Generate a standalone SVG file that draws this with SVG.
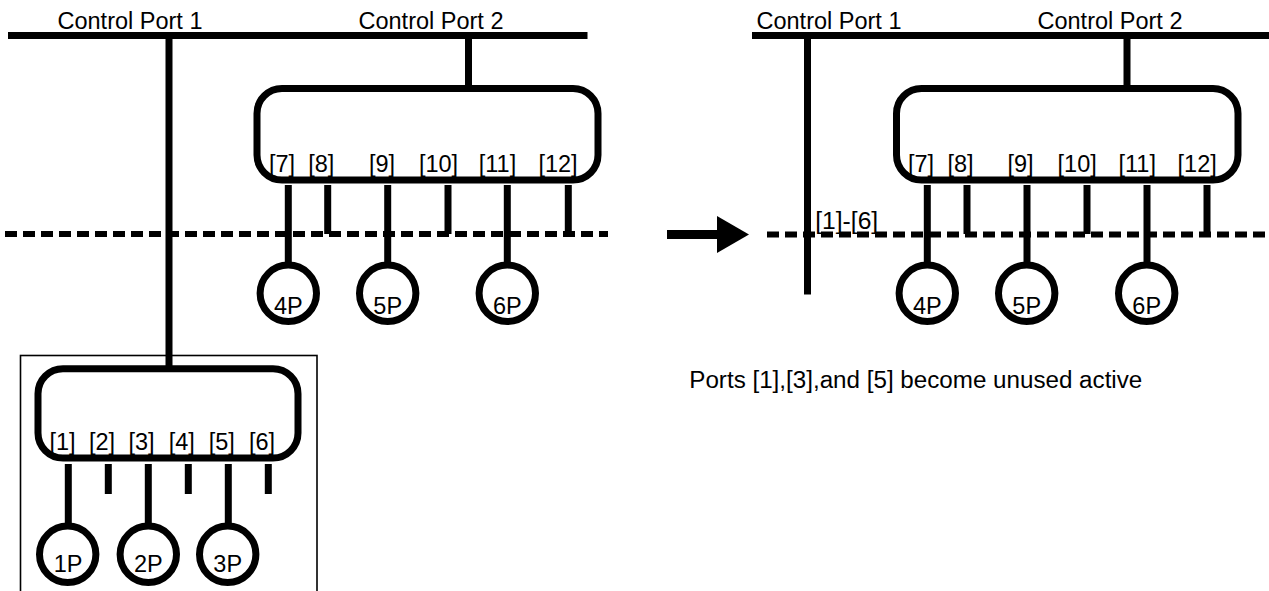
<svg xmlns="http://www.w3.org/2000/svg" width="1269" height="591" viewBox="0 0 1269 591">
  <style>
    .bus { stroke: #000; stroke-width: 7; fill: none; }
    .wire { stroke: #000; stroke-width: 7; fill: none; }
    .box { stroke: #000; stroke-width: 7; fill: none; }
    .enc { stroke: #000; stroke-width: 1.6; fill: none; }
    .dash { stroke: #000; stroke-width: 6; fill: none; stroke-dasharray: 12 6; }
    .port { stroke: #000; stroke-width: 7; fill: #fff; }
    text { font-family: "Liberation Sans", Arial, sans-serif; font-size: 23.5px; fill: #000; }
    .c { text-anchor: middle; }
  </style>
  <rect width="1269" height="591" fill="#fff"/>

  <!-- ===== Left panel ===== -->
  <g id="bus-left">
    <line class="bus" x1="8" y1="35.5" x2="587.5" y2="35.5"/>
    <text class="c" x="130" y="29">Control Port 1</text>
    <text class="c" x="431" y="29">Control Port 2</text>
  </g>

  <g id="enclosure-left">
    <rect class="enc" x="20.5" y="355.5" width="296.5" height="260"/>
  </g>

  <g id="connectors-left">
    <!-- control port uplinks -->
    <line class="wire" x1="169" y1="35" x2="169" y2="366"/>
    <line class="wire" x1="468.5" y1="35" x2="468.5" y2="89"/>
    <!-- upper switch stubs -->
    <line class="wire" x1="288.3" y1="185" x2="288.3" y2="263"/>
    <line class="wire" x1="327.7" y1="185" x2="327.7" y2="234"/>
    <line class="wire" x1="387.7" y1="185" x2="387.7" y2="263"/>
    <line class="wire" x1="448" y1="185" x2="448" y2="234"/>
    <line class="wire" x1="507.3" y1="185" x2="507.3" y2="263"/>
    <line class="wire" x1="568.3" y1="185" x2="568.3" y2="234"/>
    <!-- lower switch stubs -->
    <line class="wire" x1="68.3" y1="464" x2="68.3" y2="524"/>
    <line class="wire" x1="108.3" y1="464" x2="108.3" y2="494"/>
    <line class="wire" x1="148.3" y1="464" x2="148.3" y2="524"/>
    <line class="wire" x1="188.3" y1="464" x2="188.3" y2="494"/>
    <line class="wire" x1="228.3" y1="464" x2="228.3" y2="524"/>
    <line class="wire" x1="268.3" y1="464" x2="268.3" y2="494"/>
    <!-- boundary -->
    <line class="dash" x1="5" y1="234" x2="608" y2="234"/>
  </g>

  <g id="switch-left-upper">
    <rect class="box" x="257" y="88.5" width="341" height="91.5" rx="25" ry="25"/>
    <text class="c" x="282" y="171.5">[7]</text>
    <text class="c" x="321.3" y="171.5">[8]</text>
    <text class="c" x="382" y="171.5">[9]</text>
    <text class="c" x="438.5" y="171.5">[10]</text>
    <text class="c" x="497.5" y="171.5">[11]</text>
    <text class="c" x="558" y="171.5">[12]</text>
  </g>

  <g id="switch-left-lower">
    <rect class="box" x="38" y="368.7" width="260" height="89.3" rx="25" ry="25"/>
    <text class="c" x="62.5" y="450">[1]</text>
    <text class="c" x="102" y="450">[2]</text>
    <text class="c" x="141.5" y="450">[3]</text>
    <text class="c" x="181.7" y="450">[4]</text>
    <text class="c" x="221.7" y="450">[5]</text>
    <text class="c" x="262" y="450">[6]</text>
  </g>

  <g id="port-left-4P"><circle class="port" cx="288.3" cy="293.3" r="28.2"/><text class="c" x="288.3" y="314">4P</text></g>
  <g id="port-left-5P"><circle class="port" cx="387.7" cy="293.3" r="28.2"/><text class="c" x="387.7" y="314">5P</text></g>
  <g id="port-left-6P"><circle class="port" cx="507.3" cy="293.3" r="28.2"/><text class="c" x="507.3" y="314">6P</text></g>
  <g id="port-left-1P"><circle class="port" cx="67.7" cy="554.3" r="28.2"/><text class="c" x="68" y="571.7">1P</text></g>
  <g id="port-left-2P"><circle class="port" cx="148.3" cy="554.3" r="28.2"/><text class="c" x="148.3" y="571.7">2P</text></g>
  <g id="port-left-3P"><circle class="port" cx="227.7" cy="554.3" r="28.2"/><text class="c" x="227.7" y="571.7">3P</text></g>

  <!-- ===== Transition arrow ===== -->
  <g id="arrow">
    <line stroke="#000" stroke-width="9" x1="667" y1="234.5" x2="719" y2="234.5"/>
    <polygon points="717,216 749,234.5 717,253" fill="#000"/>
  </g>

  <!-- ===== Right panel ===== -->
  <g id="bus-right">
    <line class="bus" x1="752" y1="35.5" x2="1269" y2="35.5"/>
    <text class="c" x="829" y="29">Control Port 1</text>
    <text class="c" x="1110" y="29">Control Port 2</text>
  </g>

  <g id="connectors-right">
    <line class="wire" x1="807.5" y1="35" x2="807.5" y2="294.5"/>
    <line class="wire" x1="1127" y1="35" x2="1127" y2="89"/>
    <line class="wire" x1="927.3" y1="185" x2="927.3" y2="263"/>
    <line class="wire" x1="967" y1="185" x2="967" y2="234"/>
    <line class="wire" x1="1027" y1="185" x2="1027" y2="263"/>
    <line class="wire" x1="1087" y1="185" x2="1087" y2="234"/>
    <line class="wire" x1="1147" y1="185" x2="1147" y2="263"/>
    <line class="wire" x1="1207" y1="185" x2="1207" y2="234"/>
    <line class="dash" x1="767" y1="234.5" x2="1269" y2="234.5"/>
    <text class="c" x="846.7" y="229" textLength="63" lengthAdjust="spacingAndGlyphs">[1]-[6]</text>
  </g>

  <g id="switch-right">
    <rect class="box" x="896.5" y="88.5" width="341.5" height="91.5" rx="25" ry="25"/>
    <text class="c" x="921" y="171.5">[7]</text>
    <text class="c" x="960.5" y="171.5">[8]</text>
    <text class="c" x="1020.5" y="171.5">[9]</text>
    <text class="c" x="1077.2" y="171.5">[10]</text>
    <text class="c" x="1137.2" y="171.5">[11]</text>
    <text class="c" x="1197.2" y="171.5">[12]</text>
  </g>

  <g id="port-right-4P"><circle class="port" cx="927.3" cy="293.3" r="28.2"/><text class="c" x="927.3" y="314">4P</text></g>
  <g id="port-right-5P"><circle class="port" cx="1026.7" cy="293.3" r="28.2"/><text class="c" x="1026.7" y="314">5P</text></g>
  <g id="port-right-6P"><circle class="port" cx="1146.7" cy="293.3" r="28.2"/><text class="c" x="1146.7" y="314">6P</text></g>

  <g id="note">
    <text class="c" x="915.8" y="388" textLength="453" lengthAdjust="spacingAndGlyphs">Ports [1],[3],and [5] become unused active</text>
  </g>
</svg>
